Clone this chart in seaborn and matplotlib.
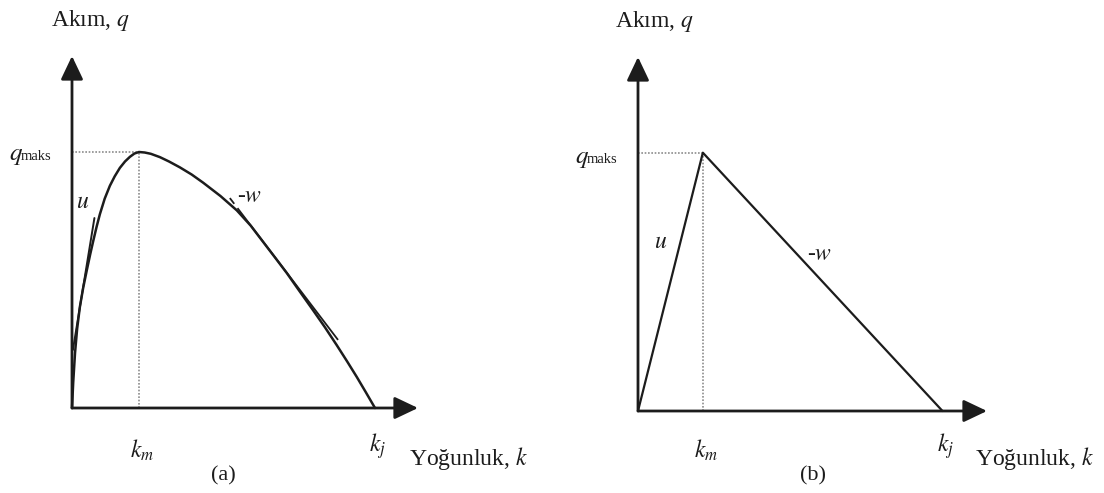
import matplotlib
matplotlib.use("Agg")
import matplotlib.pyplot as plt
import seaborn as sns

sns.set_theme(style="white")
plt.rcParams["font.family"] = ["Liberation Serif", "DejaVu Serif"]
plt.rcParams["mathtext.fontset"] = "stix"

# (a) curved flow-density relation (k / kj, q / qmax)
k_curve = [0.0, 0.004, 0.010, 0.017, 0.026, 0.037, 0.049, 0.060, 0.070, 0.081,
           0.092, 0.108, 0.125, 0.141, 0.158, 0.175, 0.191, 0.206, 0.221, 0.240,
           0.260, 0.290, 0.320, 0.356, 0.395, 0.433, 0.490, 0.544, 0.590, 0.630,
           0.670, 0.709, 0.750, 0.795, 0.835, 0.874, 0.908, 0.940, 0.970, 1.0]
q_curve = [0.0, 0.100, 0.215, 0.310, 0.395, 0.470, 0.539, 0.600, 0.652, 0.707,
           0.757, 0.818, 0.868, 0.905, 0.938, 0.963, 0.981, 0.994, 1.0, 0.998,
           0.993, 0.980, 0.963, 0.940, 0.912, 0.880, 0.828, 0.772, 0.712, 0.650,
           0.588, 0.527, 0.458, 0.383, 0.315, 0.245, 0.182, 0.121, 0.061, 0.0]

# tangent lines: free-flow speed u and wave speed -w
u_tan_k = [0.003, 0.074]
u_tan_q = [0.227, 0.742]
w_tan_k = [0.521, 0.878]
w_tan_q = [0.820, 0.266]

# (b) triangular relation
k_tri = [0.0, 0.213, 1.0]
q_tri = [0.0, 1.0, 0.0]

km_a = 0.221
km_b = 0.213
kj = 1.0
qmax = 1.0

W, H = 1104, 493
fig = plt.figure(figsize=(W / 100, H / 100), dpi=100)
fig.patch.set_facecolor("white")

INK = "#1c1c1c"
FS = 17


def make_axes(left_px, right_px, x0, y0, sx, sy):
    ax = fig.add_axes([left_px / W, 0, (right_px - left_px) / W, 1])
    ax.set_xlim((left_px - x0) / sx, (right_px - x0) / sx)
    ax.set_ylim((y0 - H) / sy, y0 / sy)
    ax.axis("off")
    ax.patch.set_alpha(0)
    return ax


def to_k(x_px, x0, sx):
    return (x_px - x0) / sx


def to_q(y_px, y0, sy):
    return (y0 - y_px) / sy


def draw_axes_arrows(ax, k_tip, q_tip):
    style = "-|>,head_length=0.4,head_width=0.19"
    for tip in [(k_tip, 0), (0, q_tip)]:
        ax.annotate("", xy=tip, xytext=(0, 0),
                    arrowprops=dict(arrowstyle=style, mutation_scale=36,
                                    lw=2.0, color=INK, shrinkA=0, shrinkB=0),
                    zorder=5)


def draw_guides(ax, km):
    dots = dict(color="#8c8c8c", lw=1.2, ls=(0, (1, 1)), zorder=1)
    ax.plot([0, km], [qmax, qmax], **dots)
    ax.plot([km, km], [0, qmax], **dots)


def labels(ax, x0, y0, sx, sy, km, akim_x, akim_y, qm_x, qm_y, u_xy, w_xy,
           km_y, kj_y, yog_x, yog_y, tag, tag_xy):
    kx = lambda v: to_k(v, x0, sx)
    qy = lambda v: to_q(v, y0, sy)
    ax.text(kx(akim_x), qy(akim_y), "Akım, $q$", fontsize=FS, color=INK,
            ha="left", va="baseline")
    ax.text(kx(qm_x), qy(qm_y), "$q$", fontsize=FS + 1, color=INK,
            ha="left", va="baseline")
    ax.text(kx(qm_x + 12), qy(qm_y), "maks", fontsize=10.5, color=INK,
            ha="left", va="baseline")
    ax.text(kx(u_xy[0]), qy(u_xy[1]), "$u$", fontsize=FS, color=INK,
            ha="center", va="center")
    ax.text(kx(w_xy[0]), qy(w_xy[1]), "-$w$", fontsize=FS, color=INK,
            ha="left", va="center")
    ax.text(km + 0.01, qy(km_y), "$k_m$", fontsize=FS, color=INK,
            ha="center", va="center")
    ax.text(kj + 0.01, qy(kj_y), "$k_j$", fontsize=FS, color=INK,
            ha="center", va="center")
    ax.text(kx(yog_x), qy(yog_y), "Yoğunluk, $k$", fontsize=FS, color=INK,
            ha="left", va="center")
    ax.text(kx(tag_xy[0]), qy(tag_xy[1]), tag, fontsize=FS - 1, color=INK,
            ha="center", va="center")


# ---- panel (a) ----
ax_a_x0, ax_a_y0, ax_a_sx, ax_a_sy = 72, 408, 303, 256
ax_a = make_axes(0, 552, ax_a_x0, ax_a_y0, ax_a_sx, ax_a_sy)
draw_guides(ax_a, km_a)
sns.lineplot(x=k_curve, y=q_curve, ax=ax_a, sort=False, estimator=None,
             color=INK, lw=1.8, zorder=3)
sns.lineplot(x=u_tan_k, y=u_tan_q, ax=ax_a, sort=False, estimator=None,
             color=INK, lw=1.4, zorder=3)
ax_a.plot(w_tan_k, w_tan_q, color=INK, lw=1.3, ls=(0, (4, 3, 150, 5)),
          zorder=3)
draw_axes_arrows(ax_a, to_k(418, ax_a_x0, ax_a_sx), to_q(56, ax_a_y0, ax_a_sy))
labels(ax_a, ax_a_x0, ax_a_y0, ax_a_sx, ax_a_sy, km_a,
       akim_x=51, akim_y=26, qm_x=9, qm_y=160, u_xy=(83, 203), w_xy=(237, 196),
       km_y=450, kj_y=446, yog_x=409, yog_y=459, tag="(a)", tag_xy=(223, 476))

# ---- panel (b) ----
ax_b_x0, ax_b_y0, ax_b_sx, ax_b_sy = 638, 411, 304.5, 258.3
ax_b = make_axes(552, 1104, ax_b_x0, ax_b_y0, ax_b_sx, ax_b_sy)
draw_guides(ax_b, km_b)
sns.lineplot(x=k_tri, y=q_tri, ax=ax_b, sort=False, estimator=None,
             color=INK, lw=1.6, zorder=3)
draw_axes_arrows(ax_b, to_k(987, ax_b_x0, ax_b_sx), to_q(57, ax_b_y0, ax_b_sy))
labels(ax_b, ax_b_x0, ax_b_y0, ax_b_sx, ax_b_sy, km_b,
       akim_x=615, akim_y=27, qm_x=575, qm_y=163, u_xy=(661, 243), w_xy=(807, 254),
       km_y=450, kj_y=446, yog_x=975, yog_y=459, tag="(b)", tag_xy=(813, 476))

fig.savefig("out.png", dpi=100, facecolor="white")
